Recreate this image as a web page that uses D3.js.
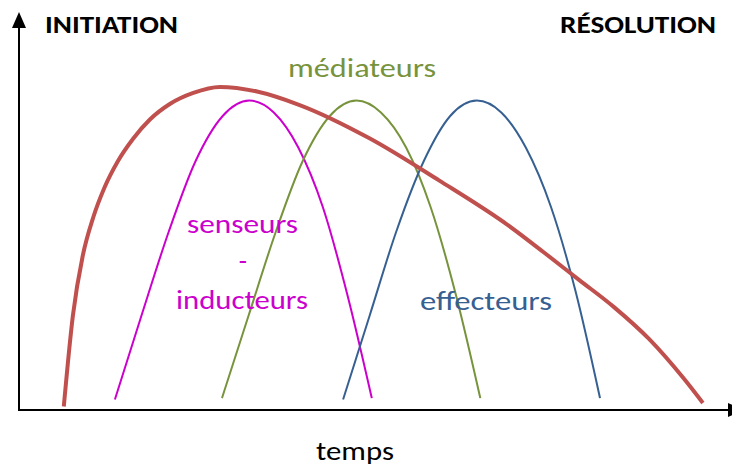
<!DOCTYPE html>
<html>
<head>
<meta charset="utf-8">
<script src="https://cdn.jsdelivr.net/npm/d3@7"></script>
<style>
  html, body { margin: 0; padding: 0; background: #ffffff; }
  svg { display: block; }
  text { font-family: Carlito, Lato, "Open Sans", sans-serif; }
</style>
</head>
<body>
<svg id="chart" width="732" height="468"></svg>
<script>
// ---- data (time t in 0..100, intensity v in 0..100) ----
const inflammation = [
  [6.4, 1], [7.7, 27], [9.1, 44], [10.6, 55], [12.2, 63.5], [14.1, 71], [16.3, 77.5],
  [18.7, 83], [21.6, 87.5], [24.9, 90.6], [28.7, 92.3], [34, 91], [40, 87.2],
  [50, 77.7], [60, 65.6], [70, 52.6], [75, 45], [80, 37.2], [85, 29.4], [90, 20.3],
  [95, 8.9], [97.7, 2]
];
const senseurs = [
  [13.7, 3], [17.5, 27], [21.4, 51], [25.2, 71], [29.1, 84], [32.9, 88.4],
  [36.4, 85], [39.9, 75], [43.4, 58], [46.9, 33], [50.4, 3.4]
];
const mediateurs = [
  [29, 3.4], [32.8, 27], [36.7, 51], [40.5, 71], [44.4, 84], [48.2, 88.4],
  [51.7, 85], [55.3, 75], [58.8, 58], [62.4, 33], [65.9, 3.4]
];
const effecteurs = [
  [46.3, 3], [50.1, 27], [53.9, 51], [57.8, 71], [61.6, 84], [65.4, 88.4],
  [68.9, 85], [72.4, 75], [76, 58], [79.5, 34], [83, 3.4]
];
const phaseLabels = ["INITIATION", "RÉSOLUTION"];
const curveLabels = ["médiateurs", "senseurs", "-", "inducteurs", "effecteurs"];
const axisLabel = "temps";

// ---- scales ----
const svg = d3.select("#chart");
const x = d3.scaleLinear().domain([0, 100]).range([19, 719]);
const y = d3.scaleLinear().domain([0, 100]).range([410, 60]);

const line = d3.line()
  .x(d => x(d[0]))
  .y(d => y(d[1]))
  .curve(d3.curveMonotoneX);

// ---- axes ----
const axisG = svg.append("g");
axisG.append("line")
  .attr("x1", x(0)).attr("y1", y(0)).attr("x2", x(0)).attr("y2", 26)
  .attr("stroke", "#000").attr("stroke-width", 2);
axisG.append("path")
  .attr("d", `M${x(0)},12 L${x(0) - 7},28 L${x(0) + 7},28 Z`)
  .attr("fill", "#000");
axisG.append("line")
  .attr("x1", x(0) - 1).attr("y1", y(0)).attr("x2", 728).attr("y2", y(0))
  .attr("stroke", "#000").attr("stroke-width", 2);
axisG.append("path")
  .attr("d", `M744,${y(0)} L728,${y(0) - 7} L728,${y(0) + 7} Z`)
  .attr("fill", "#000");

// ---- curves ----
const series = [
  { data: senseurs, color: "#cc00cc", w: 2 },
  { data: mediateurs, color: "#77933c", w: 2 },
  { data: effecteurs, color: "#376092", w: 2 },
  { data: inflammation, color: "#c0504d", w: 4 }
];
svg.append("g").selectAll("path")
  .data(series)
  .join("path")
  .attr("d", d => line(d.data))
  .attr("fill", "none")
  .attr("stroke", d => d.color)
  .attr("stroke-width", d => d.w)
  .attr("stroke-linecap", "butt");

// ---- text ----
function label(txt, px, py, anchor, size, weight, color, width) {
  const t = svg.append("text").text(txt)
    .attr("x", px).attr("y", py).attr("text-anchor", anchor)
    .attr("font-size", size).attr("font-weight", weight).attr("fill", color);
  if (width) t.attr("textLength", width).attr("lengthAdjust", "spacingAndGlyphs");
  return t;
}
label(phaseLabels[0], 45, 33, "start", 24, "bold", "#000", 133);
label(phaseLabels[1], 560, 33, "start", 24, "bold", "#000", 156);
label(curveLabels[0], 288, 77, "start", 27, "normal", "#77933c", 148);
label(curveLabels[1], 187, 233, "start", 27, "normal", "#cc00cc", 111);
label(curveLabels[2], 243, 270, "middle", 27, "normal", "#cc00cc", null);
label(curveLabels[3], 176, 309, "start", 27, "normal", "#cc00cc", 132);
label(curveLabels[4], 420, 310, "start", 27, "normal", "#376092", 132);
label(axisLabel, 316, 460, "start", 27, "normal", "#000", 78);
</script>
</body>
</html>
